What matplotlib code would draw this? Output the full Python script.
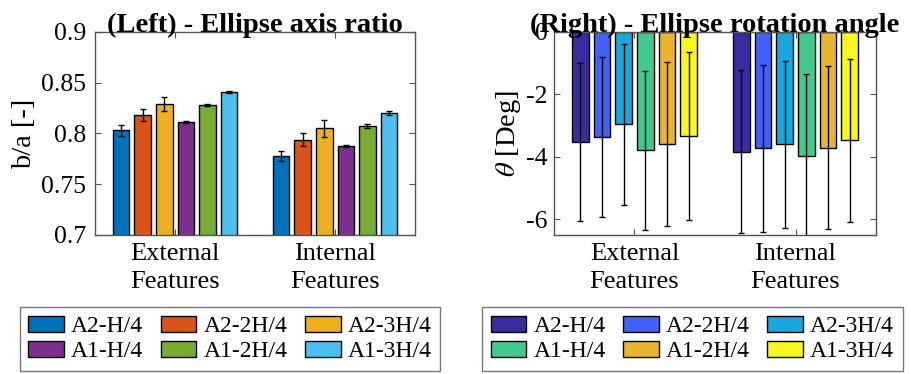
import numpy as np
import matplotlib.pyplot as plt
from matplotlib.patches import Patch

plt.rcParams['font.family'] = ['Liberation Serif', 'DejaVu Serif']
plt.rcParams['mathtext.fontset'] = 'stix'

groups = ['External\nFeatures', 'Internal\nFeatures']
series = ['A2-H/4', 'A2-2H/4', 'A2-3H/4', 'A1-H/4', 'A1-2H/4', 'A1-3H/4']

# axis ratio b/a (mean, error) per series: [External, Internal]
ratio_mean = [[0.803, 0.778], [0.818, 0.794], [0.829, 0.805],
              [0.811, 0.788], [0.828, 0.807], [0.841, 0.820]]
ratio_err = [[0.005, 0.005], [0.006, 0.006], [0.007, 0.008],
             [0.001, 0.001], [0.001, 0.002], [0.001, 0.002]]

# rotation angle theta (mean, error)
angle_mean = [[-3.51, -3.83], [-3.36, -3.73], [-2.96, -3.60],
              [-3.79, -3.96], [-3.58, -3.70], [-3.33, -3.47]]
angle_err = [[2.53, 2.60], [2.57, 2.68], [2.57, 2.67],
             [2.55, 2.63], [2.62, 2.60], [2.68, 2.60]]

left_colors = ['#0072BD', '#D95319', '#EDB120', '#7E2F8E', '#77AC30', '#4DBEEE']
right_colors = ['#3b2ba1', '#4161f6', '#1ba7dd', '#42c98d', '#e9b531', '#f8f81e']

fig = plt.figure(figsize=(9.11, 3.74), dpi=100)
ax1 = fig.add_axes([0.1043, 0.3717, 0.3513, 0.5428])
ax2 = fig.add_axes([0.6081, 0.3717, 0.3535, 0.5428])

x = np.arange(1, len(groups) + 1)
step, width = 0.135, 0.104


def draw(ax, means, errs, colors):
    for i in range(len(series)):
        pos = x + (i - 2.5) * step
        ax.bar(pos, means[i], width, color=colors[i], edgecolor='black',
               linewidth=1.0, zorder=2)
        ax.errorbar(pos, means[i], yerr=errs[i], fmt='none', ecolor='black',
                    elinewidth=1.0, capsize=2.5, capthick=1.0, zorder=3)
    ax.set_xlim(0.5, 2.5)
    ax.set_xticks(x)
    ax.set_xticklabels(groups, fontsize=19, linespacing=1.35)
    ax.tick_params(direction='in', top=True, right=True, length=4,
                   color='#555555', labelsize=18.5)
    ax.tick_params(axis='x', labelsize=19, pad=6)
    for s in ax.spines.values():
        s.set_color('#555555')
        s.set_linewidth(1.0)


draw(ax1, ratio_mean, ratio_err, left_colors)
ax1.tick_params(axis='y', pad=6.5)
ax1.set_ylim(0.7, 0.9)
ax1.set_yticks([0.7, 0.75, 0.8, 0.85, 0.9])
ax1.set_yticklabels(['0.7', '0.75', '0.8', '0.85', '0.9'])
ax1.set_ylabel('b/a [-]', fontsize=20.5)
ax1.yaxis.set_label_coords(-0.18, 0.5)
ax1.set_title('(Left) - Ellipse axis ratio', fontsize=20.5, fontweight='bold', pad=0)

draw(ax2, angle_mean, angle_err, right_colors)
ax2.tick_params(axis='y', pad=4.5)
ax2.set_ylim(-6.5, 0)
ax2.set_yticks([-6, -4, -2, 0])
ax2.set_yticklabels(['-6', '-4', '-2', '0'])
ax2.set_ylabel(r'$\theta$ [Deg]', fontsize=20.5)
ax2.yaxis.set_label_coords(-0.096, 0.5)
ax2.set_title('(Right) - Ellipse rotation angle', fontsize=20.5, fontweight='bold', pad=0)

# legend fills column by column, so reorder to read row by row
order = [0, 3, 1, 4, 2, 5]
for colors, cx in [(left_colors, 0.2525), (right_colors, 0.760)]:
    handles = [Patch(facecolor=colors[k], edgecolor='black', linewidth=1.0) for k in order]
    labels = [series[k] for k in order]
    fig.legend(handles, labels, loc='center', bbox_to_anchor=(cx, 0.093), ncol=3,
               fontsize=17, frameon=True, fancybox=False, edgecolor='#555555',
               handlelength=1.5, handleheight=0.65, handletextpad=0.3,
               columnspacing=0.75, labelspacing=0.17, borderpad=0.37)

fig.savefig('out.png', dpi=100)
